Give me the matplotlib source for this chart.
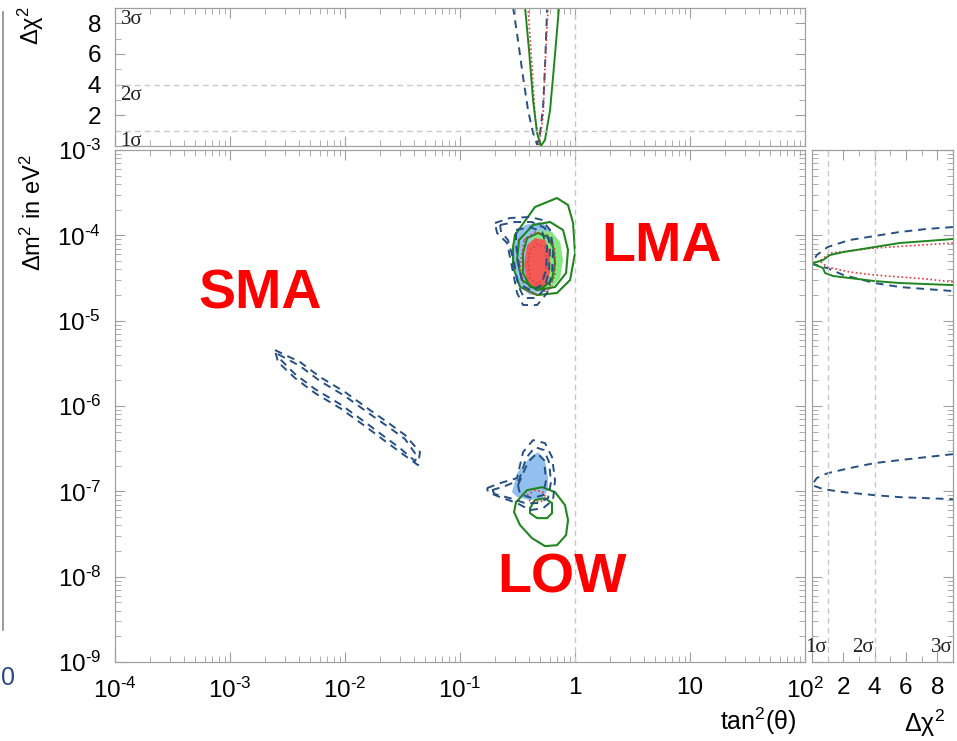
import numpy as np
import matplotlib
matplotlib.use("Agg")
import matplotlib.pyplot as plt
import matplotlib.transforms as mtrans
from matplotlib.ticker import LogLocator, NullFormatter, MultipleLocator

plt.rcParams['font.family'] = ['Liberation Sans', 'DejaVu Sans']
plt.rcParams['mathtext.fontset'] = 'custom'
plt.rcParams['mathtext.rm'] = 'Liberation Sans'
plt.rcParams['mathtext.it'] = 'Liberation Sans:italic'
plt.rcParams['mathtext.default'] = 'regular'

# contour points: (log10 tan^2(theta), log10 dm^2)
lma_blue_fill = [(-0.522, -3.996), (-0.435, -3.879), (-0.304, -3.844), (-0.217, -3.914), (-0.191, -4.114),
                 (-0.200, -4.407), (-0.261, -4.641), (-0.391, -4.700), (-0.496, -4.583), (-0.539, -4.290)]
lma_green_fill = [(-0.391, -4.055), (-0.304, -3.938), (-0.200, -3.961), (-0.130, -4.078), (-0.104, -4.290),
                  (-0.130, -4.501), (-0.217, -4.641), (-0.330, -4.641), (-0.409, -4.501), (-0.426, -4.266)]
lma_red_fill = [(-0.417, -4.114), (-0.348, -4.032), (-0.261, -4.055), (-0.217, -4.196), (-0.217, -4.430),
                (-0.252, -4.606), (-0.339, -4.641), (-0.417, -4.547), (-0.443, -4.348)]
lma_green = [
    [(-0.522, -3.996), (-0.348, -3.668), (-0.157, -3.563), (-0.061, -3.645), (-0.017, -3.856), (0.0, -4.208),
     (-0.043, -4.524), (-0.157, -4.676), (-0.330, -4.700), (-0.478, -4.606), (-0.539, -4.372), (-0.539, -4.137)],
    [(-0.487, -4.055), (-0.365, -3.879), (-0.217, -3.844), (-0.104, -3.938), (-0.061, -4.172), (-0.078, -4.442),
     (-0.174, -4.606), (-0.330, -4.641), (-0.461, -4.524), (-0.504, -4.290)],
    [(-0.417, -4.032), (-0.322, -3.973), (-0.235, -4.020), (-0.191, -4.137), (-0.174, -4.325), (-0.200, -4.524),
     (-0.287, -4.618), (-0.391, -4.606), (-0.452, -4.442), (-0.452, -4.208)],
]
lma_red = [
    [(-0.443, -4.055), (-0.348, -3.961), (-0.235, -3.996), (-0.174, -4.172), (-0.174, -4.465), (-0.235, -4.641),
     (-0.348, -4.700), (-0.443, -4.618), (-0.478, -4.348)],
    [(-0.391, -4.172), (-0.322, -4.102), (-0.261, -4.149), (-0.243, -4.313), (-0.261, -4.501), (-0.330, -4.571),
     (-0.391, -4.501), (-0.409, -4.313)],
]
lma_blue = [
    [(-0.696, -3.856), (-0.565, -3.797), (-0.391, -3.785), (-0.287, -3.820), (-0.217, -3.938), (-0.191, -4.137),
     (-0.200, -4.442), (-0.243, -4.676), (-0.330, -4.817), (-0.452, -4.817), (-0.504, -4.676), (-0.548, -4.372),
     (-0.591, -4.090), (-0.678, -3.973)],
    [(-0.652, -3.879), (-0.522, -3.844), (-0.374, -3.844), (-0.261, -3.914), (-0.217, -4.114), (-0.226, -4.430),
     (-0.270, -4.641), (-0.348, -4.735), (-0.443, -4.735), (-0.496, -4.583), (-0.530, -4.313), (-0.583, -4.055),
     (-0.643, -3.961)],
    [(-0.513, -3.938), (-0.391, -3.903), (-0.287, -3.961), (-0.243, -4.137), (-0.252, -4.407), (-0.296, -4.583),
     (-0.374, -4.653), (-0.452, -4.594), (-0.487, -4.348), (-0.513, -4.114)],
]
low_blue_fill = [(-0.548, -7.009), (-0.504, -6.787), (-0.391, -6.599), (-0.322, -6.540), (-0.261, -6.634),
                 (-0.235, -6.834), (-0.235, -6.986), (-0.287, -7.080), (-0.391, -7.103), (-0.504, -7.068)]
low_blue = [
    [(-0.765, -6.962), (-0.652, -6.904), (-0.504, -6.845), (-0.452, -6.540), (-0.365, -6.400), (-0.261, -6.435),
     (-0.200, -6.599), (-0.174, -6.869), (-0.191, -7.103), (-0.278, -7.197), (-0.391, -7.220), (-0.504, -7.138),
     (-0.652, -7.068), (-0.757, -7.009)],
    [(-0.722, -6.986), (-0.609, -6.939), (-0.487, -6.869), (-0.426, -6.611), (-0.348, -6.482), (-0.270, -6.517),
     (-0.226, -6.658), (-0.209, -6.892), (-0.235, -7.080), (-0.322, -7.138), (-0.435, -7.138), (-0.565, -7.080),
     (-0.696, -7.033)],
    [(-0.496, -6.927), (-0.409, -6.658), (-0.330, -6.552), (-0.270, -6.634), (-0.252, -6.869), (-0.278, -7.045),
     (-0.374, -7.080), (-0.478, -7.033)],
]
low_green = [
    [(-0.513, -7.127), (-0.417, -6.986), (-0.287, -6.951), (-0.174, -7.009), (-0.087, -7.162), (-0.061, -7.338),
     (-0.078, -7.513), (-0.157, -7.631), (-0.261, -7.642), (-0.374, -7.549), (-0.478, -7.396), (-0.530, -7.244)],
    [(-0.391, -7.197), (-0.348, -7.103), (-0.261, -7.080), (-0.200, -7.138), (-0.200, -7.256), (-0.243, -7.314),
     (-0.330, -7.314), (-0.391, -7.256)],
]
low_red = [(-0.417, -7.045), (-0.348, -6.986), (-0.278, -7.009), (-0.252, -7.080), (-0.304, -7.127), (-0.391, -7.115)]
sma_blue = [
    [(-2.609, -5.345), (-2.391, -5.485), (-2.217, -5.661), (-2.0, -5.837), (-1.783, -6.048), (-1.609, -6.212),
     (-1.478, -6.341), (-1.348, -6.540), (-1.365, -6.693), (-1.522, -6.540), (-1.652, -6.411), (-1.826, -6.236),
     (-2.043, -6.025), (-2.261, -5.849), (-2.435, -5.673), (-2.583, -5.485)],
    [(-2.583, -5.392), (-2.391, -5.532), (-2.217, -5.708), (-2.0, -5.884), (-1.783, -6.095), (-1.609, -6.259),
     (-1.478, -6.388), (-1.374, -6.587), (-1.391, -6.646), (-1.522, -6.494), (-1.652, -6.365), (-1.826, -6.189),
     (-2.043, -5.978), (-2.261, -5.802), (-2.435, -5.626), (-2.565, -5.450)],
]

# top panel: delta chi^2 vs log10 tan^2(theta)
top_blue_lt = [-0.539, -0.496, -0.452, -0.409, -0.365, -0.330, -0.304, -0.278, -0.261, -0.243]
top_blue_chi = [9.07, 6.9, 4.5, 2.35, 0.85, 0.1, 0.85, 2.5, 5.2, 8.9]
top_green_lt = [-0.435, -0.400, -0.365, -0.330, -0.296, -0.261, -0.217, -0.183, -0.139]
top_green_chi = [9.07, 6.26, 3.0, 0.85, 0.0, 0.4, 2.35, 5.2, 9.07]
top_red_lt = [-0.409, -0.374, -0.348, -0.313, -0.278, -0.261, -0.235]
top_red_chi = [9.07, 5.2, 1.9, 0.1, 1.9, 5.2, 9.0]

# right panel: delta chi^2 vs log10 dm^2
right_blue_lma_chi = [9.0, 7.3, 5.6, 4.0, 2.4, 1.0, 0.3, 0.0, 0.5, 0.96, 2.0, 4.0, 5.6, 7.3, 9.0]
right_blue_lma_dm = [-3.903, -3.926, -3.961, -4.008, -4.055, -4.137, -4.231, -4.336, -4.36, -4.383, -4.465,
                     -4.559, -4.606, -4.630, -4.653]
right_green_chi = [9.0, 7.3, 5.6, 4.0, 2.0, 1.15, 0.7, 0.0, 0.7, 0.83, 1.35, 4.0, 5.6, 7.3, 9.0]
right_green_dm = [-4.043, -4.067, -4.090, -4.137, -4.196, -4.231, -4.290, -4.33, -4.383, -4.442, -4.477,
                  -4.536, -4.559, -4.571, -4.583]
right_red_chi = [9.0, 4.0, 1.15, 0.5, 0.96, 2.4, 4.0, 7.3, 9.0]
right_red_dm = [-4.090, -4.149, -4.208, -4.30, -4.372, -4.430, -4.465, -4.512, -4.547]
right_blue_low_chi = [9.0, 7.3, 5.6, 4.0, 2.4, 1.0, 0.3, 0.0, 0.7, 2.0, 4.0, 5.6, 7.3, 9.0]
right_blue_low_dm = [-6.564, -6.599, -6.634, -6.669, -6.728, -6.787, -6.845, -6.927, -6.974, -7.009, -7.045,
                     -7.068, -7.080, -7.092]

x_tick_vals = [1e-4, 1e-3, 1e-2, 1e-1, 1, 10, 100]
x_tick_labels = [r'$10^{\text{-}4}$', r'$10^{\text{-}3}$', r'$10^{\text{-}2}$', r'$10^{\text{-}1}$', '1', '10', r'$10^{2}$']
y_tick_vals = [1e-9, 1e-8, 1e-7, 1e-6, 1e-5, 1e-4, 1e-3]
y_tick_labels = [r'$10^{\text{-}%d}$' % k for k in range(9, 2, -1)]
sigma_levels = [1, 4, 9]
sigma_names = ['1σ', '2σ', '3σ']

BLUE = '#264f82'
GREEN = '#1f861f'
RED = '#e03a3a'
BLUE_F = '#93c1ef'
GREEN_F = '#86e682'
RED_F = '#f25a56'
AX = '#a0a0a0'


def loop(pts):
    a = np.array(pts + pts[:1])
    return 10 ** a[:, 0], 10 ** a[:, 1]


def style(ax):
    for s in ax.spines.values():
        s.set_color(AX)
        s.set_linewidth(0.9)
    ax.tick_params(which='both', direction='in', top=True, right=True, color=AX, labelsize=17.5)
    ax.tick_params(which='major', length=7)
    ax.tick_params(which='minor', length=4)


fig = plt.figure(figsize=(9.57, 7.41), dpi=100)
ax = fig.add_axes([0.1202, 0.1066, 0.7210, 0.6910])
axt = fig.add_axes([0.1202, 0.8030, 0.7210, 0.1862])
axr = fig.add_axes([0.8485, 0.1066, 0.1473, 0.6910])

# main panel
for f, c in [(lma_blue_fill, BLUE_F), (low_blue_fill, BLUE_F), (lma_green_fill, GREEN_F), (lma_red_fill, RED_F)]:
    x, y = loop(f)
    ax.fill(x, y, color=c, lw=0)
for c in lma_green + low_green:
    ax.plot(*loop(c), color=GREEN, lw=1.5)
for c in lma_red + [low_red]:
    ax.plot(*loop(c), color=RED, lw=1.2, ls=(0, (1, 1.5)))
for c in lma_blue + low_blue + sma_blue:
    ax.plot(*loop(c), color=BLUE, lw=1.4, ls=(0, (4, 3)))
ax.axvline(1, color='#c8c8c8', lw=1, ls=(0, (4, 3)))
ax.set_xscale('log')
ax.set_yscale('log')
ax.set_xlim(1e-4, 1e2)
ax.set_ylim(1e-9, 1e-3)
style(ax)
ax.set_xticks(x_tick_vals, x_tick_labels)
ax.set_yticks(y_tick_vals, y_tick_labels)
ax.xaxis.set_minor_locator(LogLocator(base=10, subs=np.arange(2, 10)))
ax.yaxis.set_minor_locator(LogLocator(base=10, subs=np.arange(2, 10)))
ax.xaxis.set_minor_formatter(NullFormatter())
ax.yaxis.set_minor_formatter(NullFormatter())
ax.tick_params(axis='x', pad=11)
ax.tick_params(axis='y', pad=10)

ax.text(1.82e-3, 2.0e-5, 'SMA', color='#ff0000', fontsize=40, fontweight='bold', ha='center', va='center')
ax.text(5.7, 7.3e-5, 'LMA', color='#ff0000', fontsize=40, fontweight='bold', ha='center', va='center')
ax.text(0.77, 9.6e-9, 'LOW', color='#ff0000', fontsize=40, fontweight='bold', ha='center', va='center')

# top panel
axt.plot(10 ** np.array(top_blue_lt), top_blue_chi, color=BLUE, lw=1.4, ls=(0, (4, 3)))
axt.plot(10 ** np.array(top_red_lt), top_red_chi, color=RED, lw=1.2, ls=(0, (1, 1.5)))
axt.plot(10 ** np.array(top_green_lt), top_green_chi, color=GREEN, lw=1.4)
for lv in sigma_levels[:2]:
    axt.axhline(lv, color='#c8c8c8', lw=1, ls=(0, (4, 3)))
axt.axvline(1, color='#c8c8c8', lw=1, ls=(0, (4, 3)))
axt.set_xscale('log')
axt.set_xlim(1e-4, 1e2)
axt.set_ylim(0, 9)
style(axt)
axt.set_xticks(x_tick_vals)
axt.xaxis.set_minor_locator(LogLocator(base=10, subs=np.arange(2, 10)))
axt.tick_params(axis='x', which='both', labelbottom=False)
axt.set_yticks([2, 4, 6, 8])
axt.yaxis.set_minor_locator(MultipleLocator(1))
axt.tick_params(axis='y', pad=10)
tr = mtrans.blended_transform_factory(axt.transAxes, axt.transData)
for lv, nm in zip(sigma_levels, sigma_names):
    axt.text(0.008, lv - 0.1, nm, transform=tr, ha='left', va='top', fontsize=15,
             family='Liberation Serif', color='#222222')

# right panel
axr.plot(right_blue_lma_chi, 10 ** np.array(right_blue_lma_dm), color=BLUE, lw=1.4, ls=(0, (4, 3)))
axr.plot(right_blue_low_chi, 10 ** np.array(right_blue_low_dm), color=BLUE, lw=1.4, ls=(0, (4, 3)))
axr.plot(right_red_chi, 10 ** np.array(right_red_dm), color=RED, lw=1.2, ls=(0, (1, 1.5)))
axr.plot(right_green_chi, 10 ** np.array(right_green_dm), color=GREEN, lw=1.4)
for lv in sigma_levels[:2]:
    axr.axvline(lv, color='#c8c8c8', lw=1, ls=(0, (4, 3)))
axr.set_yscale('log')
axr.set_xlim(0, 9)
axr.set_ylim(1e-9, 1e-3)
style(axr)
axr.set_yticks(y_tick_vals)
axr.yaxis.set_minor_locator(LogLocator(base=10, subs=np.arange(2, 10)))
axr.tick_params(axis='y', which='both', labelleft=False)
axr.set_xticks([2, 4, 6, 8])
axr.xaxis.set_minor_locator(MultipleLocator(1))
axr.tick_params(axis='x', pad=11)
trr = mtrans.blended_transform_factory(axr.transData, axr.transAxes)
for lv, nm in zip(sigma_levels, sigma_names):
    axr.text(lv - 0.05, 0.01, nm, transform=trr, ha='right', va='bottom', fontsize=15,
             family='Liberation Serif', color='#222222')

# axis titles
fig.text(797 / 957, 1 - 721 / 741, r'tan$^2$(θ)', ha='right', va='center', fontsize=18)
fig.text(945 / 957, 1 - 723 / 741, r'Δχ$^2$', ha='right', va='center', fontsize=18)
fig.text(33 / 957, 1 - 213 / 741, r'Δm$^2$ in eV$^2$', rotation=90, ha='center', va='center', fontsize=17)
fig.text(31 / 957, 1 - 26 / 741, r'Δχ$^2$', rotation=90, ha='center', va='center', fontsize=17)

# cropped edge of the screenshot
fig.add_artist(plt.Line2D([2.5 / 957, 2.5 / 957], [1 - 12 / 741, 1 - 630 / 741], color='#8a8a8a', lw=1.2))
fig.text(1 / 957, 1 - 678 / 741, '0', color='#2b4a80', fontsize=18, ha='left', va='center')

fig.savefig('out.png', dpi=100)
